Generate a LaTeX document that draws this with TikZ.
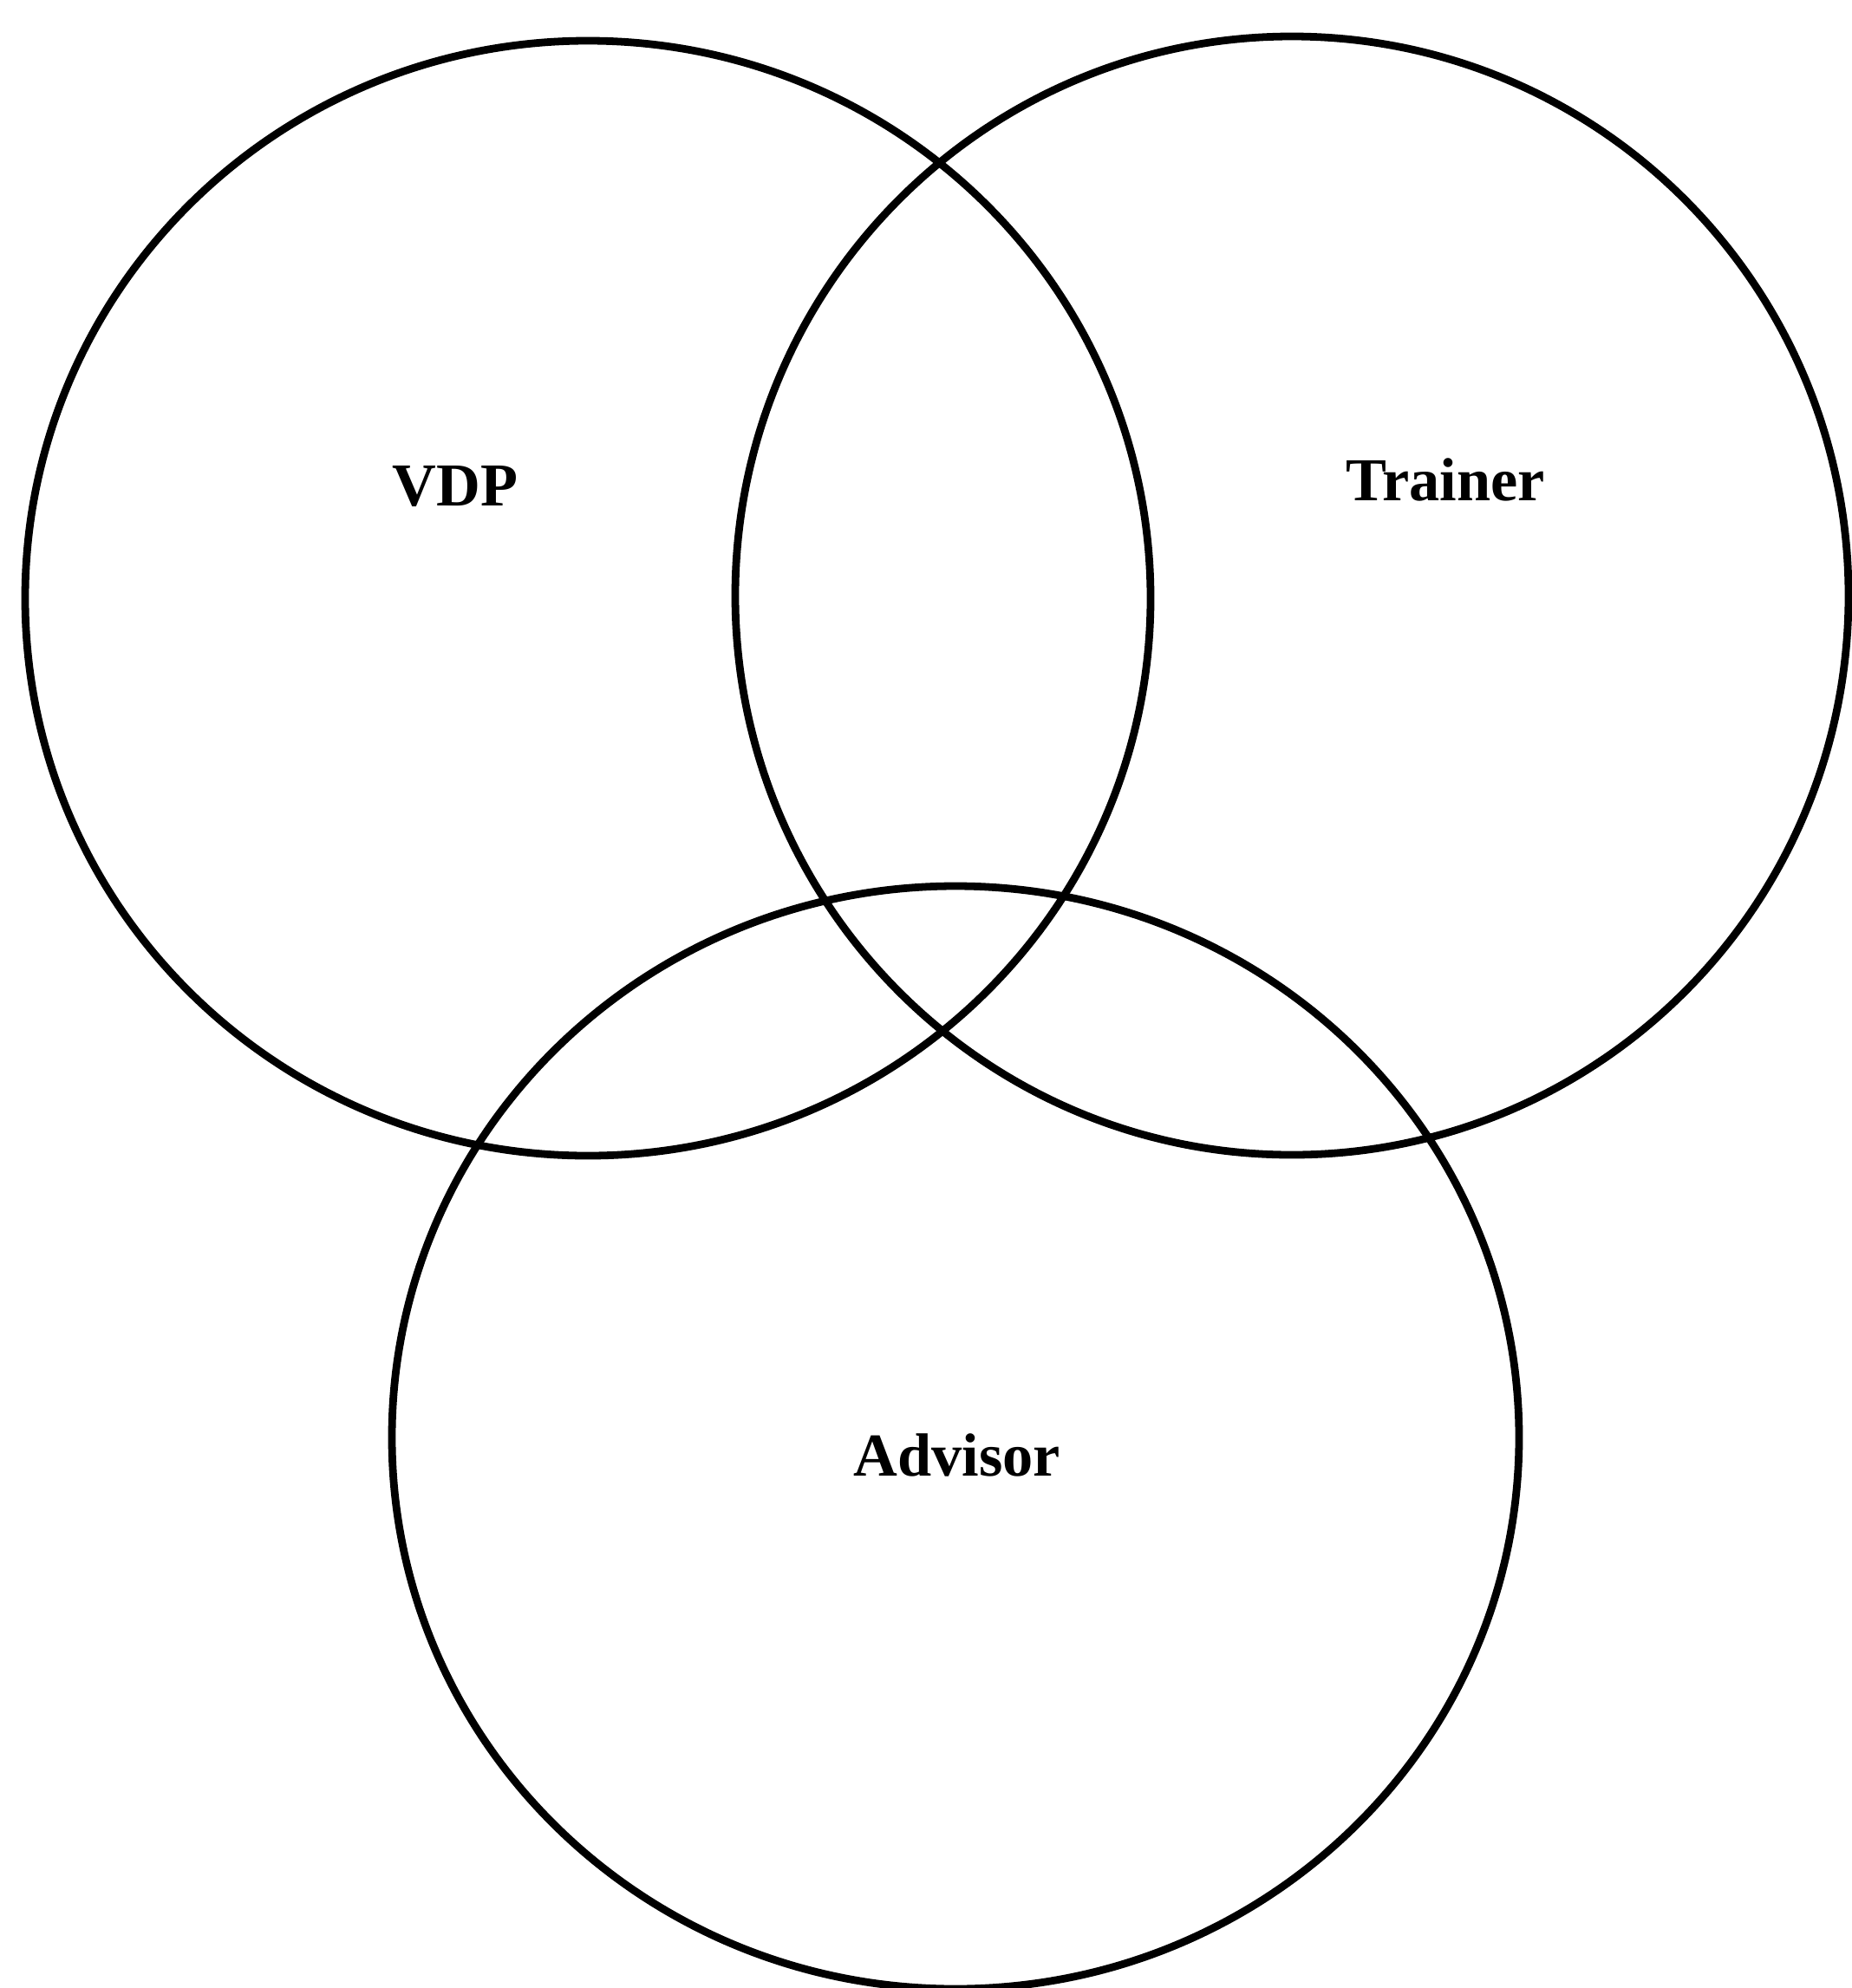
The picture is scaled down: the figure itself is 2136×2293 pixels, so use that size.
\documentclass[tikz,border=0pt]{standalone}
\usepackage{fontspec}
\setmainfont{Liberation Serif}
\usepackage{tikz}
\usetikzlibrary{positioning}

\begin{document}
\begin{tikzpicture}[x=0.01cm, y=-0.01cm, line width=2.5pt,
		lbl/.style={font=\fontsize{20}{24}\selectfont\bfseries}]
		\useasboundingbox (0,0) rectangle (2136,2293);
		\clip (0,0) rectangle (2136,2293);
		% the three sets
		\draw[black] (678,690) ellipse (649 and 643);
		\draw[black] (1490,687) ellipse (642 and 645);
		\draw[black] (1102,1658) ellipse (650 and 636);
		\node[lbl] (vdp) at (525,561) {VDP};
		\node[lbl] (trainer) at (1667,553) {Trainer};
		\node[lbl] (advisor) at (1104,1678) {Advisor};
	\end{tikzpicture}
\end{document}
